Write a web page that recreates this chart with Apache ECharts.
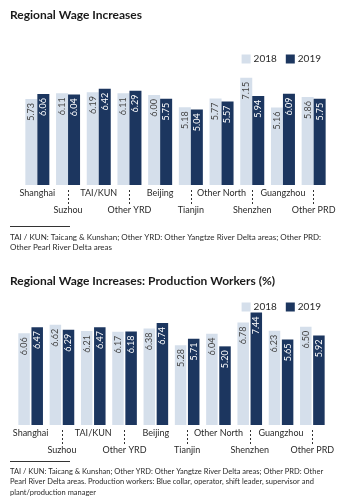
<!DOCTYPE html>
<html><head><meta charset="utf-8">
<script src="https://cdn.jsdelivr.net/npm/echarts@6/dist/echarts.min.js"></script>
<style>html,body{margin:0;padding:0;background:#fff}#c{width:342px;height:498px}</style>
</head><body><div id="c"></div>
<script>
const categories = ['Shanghai','Suzhou','TAI/KUN','Other YRD','Beijing','Tianjin','Other North','Shenzhen','Guangzhou','Other PRD'];
const all2018 = [5.73,6.11,6.19,6.11,6.00,5.18,5.77,7.15,5.16,5.86];
const all2019 = [6.06,6.04,6.42,6.29,5.75,5.04,5.57,5.94,6.09,5.75];
const prod2018 = [6.06,6.62,6.21,6.17,6.38,5.28,6.04,6.78,6.23,6.50];
const prod2019 = [6.47,6.29,6.47,6.18,6.74,5.71,5.20,7.44,5.65,5.92];
const title1 = 'Regional Wage Increases';
const title2 = 'Regional Wage Increases: Production Workers (%)';
const note1 = 'TAI / KUN: Taicang & Kunshan; Other YRD: Other Yangtze River Delta areas; Other PRD:\nOther Pearl River Delta areas';
const note2 = 'TAI / KUN: Taicang & Kunshan; Other YRD: Other Yangtze River Delta areas; Other PRD: Other\nPearl River Delta areas. Production workers: Blue collar, operator, shift leader, supervisor and\nplant/production manager';

const LIGHT = '#d5dfeb', DARK = '#1c365f', TXT = '#2a2a2a';
const FONT = 'Lato, "Open Sans", sans-serif';

function mainX(gi){
  return {type:'category', gridIndex:gi, data:categories,
    axisLine:{show:false}, axisTick:{show:false},
    axisLabel:{interval:0, margin:0, fontSize:9, fontFamily:FONT, color:TXT, lineHeight:17,
      formatter:(v,i)=> i%2===1 ? '\n'+v : v}};
}
function tickX(gi){
  return {type:'category', gridIndex:gi, data:categories, position:'bottom', offset:5,
    axisLine:{show:false}, axisLabel:{show:false},
    axisTick:{show:true, alignWithLabel:true, length:15, interval:(i)=> i%2===1,
      lineStyle:{color:'#333', type:[2,2], width:1}}};
}
function barSeries(name, data, xi, yi, color, lblColor, bw, gap){
  return {type:'bar', name, data, xAxisIndex:xi, yAxisIndex:yi, barWidth:bw, barGap:gap,
    itemStyle:{color}, animation:false,
    label:{show:true, position:'insideTop', rotate:90, align:'right', verticalAlign:'middle',
      distance:4, fontSize:9, fontFamily:FONT, color:lblColor, formatter:(p)=>p.value.toFixed(2)}};
}
const legendBase = {itemWidth:9, itemHeight:9, itemGap:9, icon:'rect',
  textStyle:{fontSize:10, fontFamily:FONT, color:TXT, padding:[0,0,0,-2]}, data:['2018','2019']};

const chart = echarts.init(document.getElementById('c'), null, {renderer:'canvas'});
chart.setOption({
  animation:false,
  title:[
    {text:title1, left:5, top:4, textStyle:{fontSize:12, fontWeight:'bold', fontFamily:FONT, color:'#1a1a1a'}},
    {text:title2, left:5, top:270, textStyle:{fontSize:12, fontWeight:'bold', fontFamily:FONT, color:'#1a1a1a'}}
  ],
  legend:[
    Object.assign({right:16, top:49}, legendBase),
    Object.assign({right:16, top:297}, legendBase)
  ],
  grid:[
    {left:22, width:307, top:65, height:120},
    {left:15, width:313, top:304, height:121}
  ],
  xAxis:[mainX(0), tickX(0), mainX(1), tickX(1)],
  yAxis:[
    {type:'value', gridIndex:0, min:0, max:8, show:false},
    {type:'value', gridIndex:1, min:0, max:8, show:false}
  ],
  series:[
    barSeries('2018', all2018, 0, 0, LIGHT, '#444', 12, '0%'),
    barSeries('2019', all2019, 0, 0, DARK, '#fff', 12, '0%'),
    barSeries('2018', prod2018, 2, 1, LIGHT, '#444', 11.5, '14%'),
    barSeries('2019', prod2019, 2, 1, DARK, '#fff', 11.5, '14%')
  ],
  graphic:[
    {type:'rect', shape:{x:10, y:226, width:60, height:1}, style:{fill:'#333'}},
    {type:'text', left:10, top:232, style:{text:note1, fontSize:8, fontFamily:FONT, fill:TXT, lineHeight:10.5}},
    {type:'rect', shape:{x:10, y:461, width:60, height:1}, style:{fill:'#333'}},
    {type:'text', left:10, top:466, style:{text:note2, fontSize:7.5, fontFamily:FONT, fill:TXT, lineHeight:10.5}}
  ]
});
</script></body></html>
